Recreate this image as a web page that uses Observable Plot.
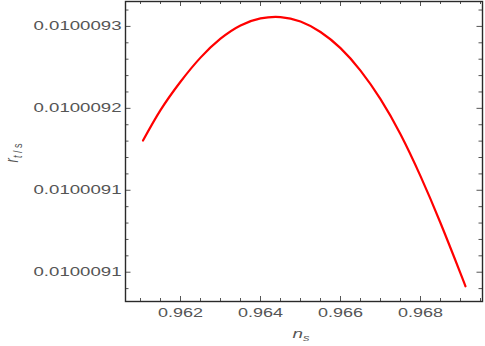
<!DOCTYPE html>
<html>
<head>
<meta charset="utf-8">
<script src="https://cdn.jsdelivr.net/npm/d3@7"></script>
<script src="https://cdn.jsdelivr.net/npm/@observablehq/plot@0.6"></script>
<style>
  html, body { margin: 0; padding: 0; background: #fff; }
  #chart { width: 485px; height: 346px; }
</style>
</head>
<body>
<div id="chart"></div>
<script>
// Curve: n_s vs r_{t/s}
const ns = [0.9610625, 0.9615, 0.962, 0.9625, 0.963, 0.9635, 0.964, 0.9645, 0.965,
            0.9655, 0.966, 0.9665, 0.967, 0.9675, 0.968, 0.9685, 0.969, 0.969125];
const rts = [0.01000917642, 0.01000919869, 0.01000921949, 0.01000923715, 0.01000925102,
             0.01000926073, 0.01000926584, 0.01000926686, 0.01000926358, 0.01000925591,
             0.01000924409, 0.01000922766, 0.01000920672, 0.01000918102, 0.01000915036,
             0.01000911606, 0.01000907920, 0.01000906971];

// Ticks
const xMajor = [0.962, 0.964, 0.966, 0.968];
const xMajorLabels = ["0.962", "0.964", "0.966", "0.968"];
const xMinor = [0.961, 0.9615, 0.9625, 0.963, 0.9635, 0.9645, 0.965, 0.9655,
                0.9665, 0.967, 0.9675, 0.9685, 0.969, 0.9695];
const yMajor = [0.01000926, 0.0100092, 0.01000914, 0.01000908];
const yMajorLabels = ["0.0100093", "0.0100092", "0.0100091", "0.0100091"];
const yMinor = [0.010009272, 0.010009248, 0.010009236, 0.010009224, 0.010009212,
                0.010009188, 0.010009176, 0.010009164, 0.010009152, 0.010009128,
                0.010009116, 0.010009104, 0.010009092, 0.010009068];

const xDomain = [0.960625, 0.96955];
const yDomain = [0.01000905855, 0.01000927825];

const data = ns.map((x, i) => ({x, y: rts[i]}));

const W = 485, H = 346, ML = 125, MR = 3, MT = 1, MB = 45;
const innerW = W - ML - MR, innerH = H - MT - MB;
const tickCol = "#555";

const svg = Plot.plot({
  width: W, height: H,
  marginLeft: ML, marginRight: MR, marginTop: MT, marginBottom: MB,
  style: {fontFamily: "'Liberation Sans', Arial, sans-serif", fontSize: "12.5px", color: "#555", background: "#fff"},
  x: {domain: xDomain},
  y: {domain: yDomain},
  marks: [
    // inward ticks, bottom & top
    Plot.tickX(xMajor, {x: d => d, stroke: tickCol, insetTop: innerH - 5}),
    Plot.tickX(xMinor, {x: d => d, stroke: tickCol, insetTop: innerH - 3}),
    Plot.tickX(xMajor, {x: d => d, stroke: tickCol, insetBottom: innerH - 5}),
    Plot.tickX(xMinor, {x: d => d, stroke: tickCol, insetBottom: innerH - 3}),
    // inward ticks, left & right
    Plot.tickY(yMajor, {y: d => d, stroke: tickCol, insetRight: innerW - 5.5}),
    Plot.tickY(yMinor, {y: d => d, stroke: tickCol, insetRight: innerW - 3.5}),
    Plot.tickY(yMajor, {y: d => d, stroke: tickCol, insetLeft: innerW - 5.5}),
    Plot.tickY(yMinor, {y: d => d, stroke: tickCol, insetLeft: innerW - 3.5}),
    Plot.axisX({ticks: xMajor, tickSize: 0, tickPadding: 7, label: null,
                tickFormat: d => xMajorLabels[xMajor.indexOf(d)], fill: "#555"}),
    Plot.axisY({ticks: yMajor, tickSize: 0, tickPadding: 4, label: null,
                tickFormat: d => yMajorLabels[yMajor.indexOf(d)], fill: "#555"}),
    Plot.line(data, {x: "x", y: "y", stroke: "#ff0000", strokeWidth: 2.2, curve: "natural"}),
    Plot.frame({stroke: "#2a2a2a", strokeWidth: 1.4})
  ]
});

// Stretch the tick labels horizontally as in the reference
d3.select(svg).selectAll("g[aria-label='y-axis tick label'] text")
  .attr("textLength", 88).attr("lengthAdjust", "spacingAndGlyphs");
d3.select(svg).selectAll("g[aria-label='x-axis tick label'] text")
  .attr("textLength", 45).attr("lengthAdjust", "spacingAndGlyphs");

// Axis titles with subscripts
const s = d3.select(svg);
const yl = s.append("text")
  .attr("transform", "translate(18,153) scale(1.45,1) rotate(-90)")
  .attr("text-anchor", "middle")
  .attr("fill", "#555")
  .style("font-family", "'Liberation Sans', Arial, sans-serif");
yl.append("tspan").attr("font-style", "italic").attr("font-size", 13).text("r");
yl.append("tspan").attr("font-size", 9).attr("dy", 3).attr("font-style", "italic").text("t");
yl.append("tspan").attr("font-size", 9).text(" / s");

const xl = s.append("text")
  .attr("transform", "translate(301,338) scale(1.45,1)")
  .attr("text-anchor", "middle")
  .attr("fill", "#555")
  .style("font-family", "'Liberation Sans', Arial, sans-serif");
xl.append("tspan").attr("font-style", "italic").attr("font-size", 13).text("n");
xl.append("tspan").attr("font-size", 9).attr("dy", 3).attr("font-style", "italic").text("s");

document.getElementById("chart").appendChild(svg);
</script>
</body>
</html>
